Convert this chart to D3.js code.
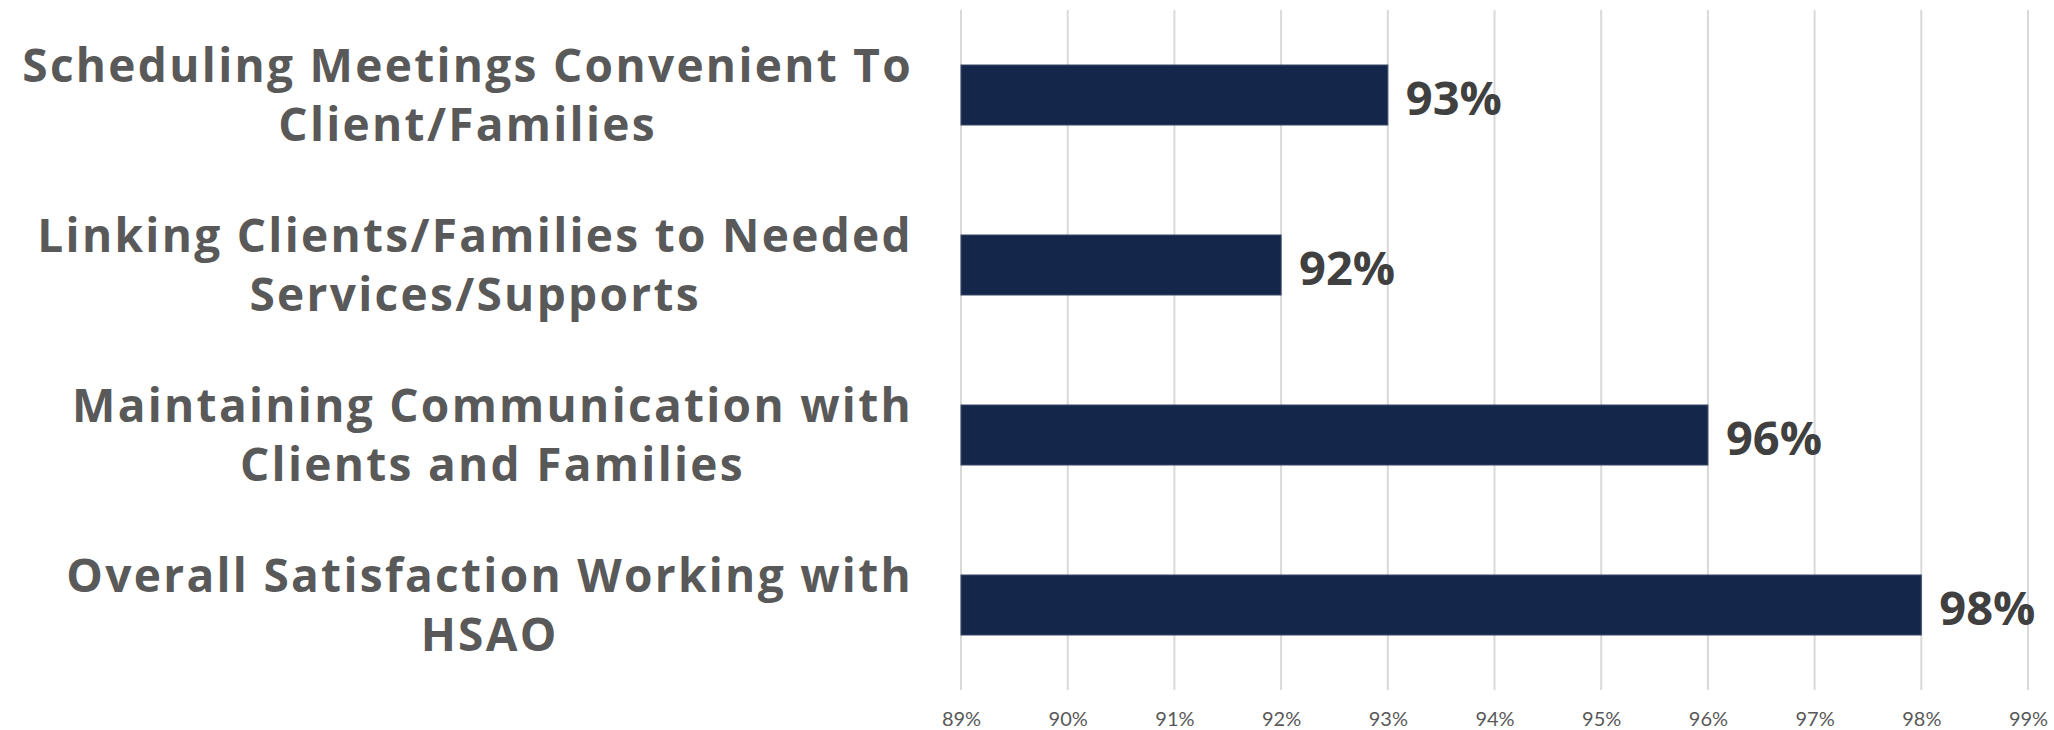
<!DOCTYPE html>
<html>
<head>
<meta charset="utf-8">
<script src="https://cdn.jsdelivr.net/npm/d3@7"></script>
<style>
  html, body { margin: 0; padding: 0; background: #ffffff; }
  svg { display: block; }
</style>
</head>
<body>
<svg id="chart" width="2054" height="730"></svg>
<script>
// ---- Data ----
const categories = [
  "Scheduling Meetings Convenient To Client/Families",
  "Linking Clients/Families to Needed Services/Supports",
  "Maintaining Communication with Clients and Families",
  "Overall Satisfaction Working with HSAO"
];
const labelLines = [
  ["Scheduling Meetings Convenient To", "Client/Families"],
  ["Linking Clients/Families to Needed", "Services/Supports"],
  ["Maintaining Communication with", "Clients and Families"],
  ["Overall Satisfaction Working with", "HSAO"]
];
const values = [0.93, 0.92, 0.96, 0.98];
const tickValues = [0.89, 0.90, 0.91, 0.92, 0.93, 0.94, 0.95, 0.96, 0.97, 0.98, 0.99];
const xDomain = [0.89, 0.99];

// ---- Layout ----
const svg = d3.select("#chart");
const plotLeft = 961, plotRight = 2028, plotTop = 10, plotBottom = 690;
const labelRight = 913;
const labelFamily = "'Open Sans', Lato, sans-serif";
const tickFamily = "Lato, 'Open Sans', sans-serif";

const x = d3.scaleLinear().domain(xDomain).range([plotLeft, plotRight]);
const y = d3.scaleBand().domain(categories).range([plotTop, plotBottom])
  .paddingInner(0.647).paddingOuter(0.3235);

// Gridlines
svg.append("g").selectAll("line").data(tickValues).join("line")
  .attr("x1", d => x(d)).attr("x2", d => x(d))
  .attr("y1", plotTop).attr("y2", plotBottom)
  .attr("stroke", "#d9d9d9").attr("stroke-width", 2);

// Bottom axis tick labels
const fmt = d3.format(".0%");
const axis = d3.axisBottom(x).tickValues(tickValues).tickFormat(fmt).tickSize(0).tickPadding(0);
const axisG = svg.append("g").attr("transform", `translate(0,${plotBottom})`).call(axis);
axisG.select(".domain").remove();
axisG.selectAll("text")
  .attr("y", 36).attr("dy", null)
  .attr("font-family", tickFamily).attr("font-size", 20)
  .attr("fill", "#595959");

// Bars
svg.append("g").selectAll("rect").data(values).join("rect")
  .attr("x", x(xDomain[0]))
  .attr("y", (d, i) => y(categories[i]))
  .attr("width", d => x(d) - x(xDomain[0]))
  .attr("height", y.bandwidth())
  .attr("fill", "#14264a")
  .attr("stroke", "#3a4a6a").attr("stroke-width", 1);

// Value labels
svg.append("g").selectAll("text").data(values).join("text")
  .attr("x", d => x(d) + 18)
  .attr("y", (d, i) => y(categories[i]) + y.bandwidth() / 2 + 2)
  .attr("dominant-baseline", "central")
  .attr("font-family", labelFamily).attr("font-weight", "bold")
  .attr("font-size", 47).attr("fill", "#404040")
  .text(d => fmt(d));

// Category labels (wrapped, lines centered, block right-aligned)
const labelFont = 46, lineGap = 59;
labelLines.forEach((lines, i) => {
  const cy = y(categories[i]) + y.bandwidth() / 2;
  const g = svg.append("g");
  const texts = lines.map((ln, j) => g.append("text")
    .attr("font-family", labelFamily).attr("font-weight", "bold")
    .attr("font-size", labelFont).attr("letter-spacing", 2.3).attr("fill", "#595959")
    .attr("text-anchor", "middle")
    .attr("y", cy + (j - (lines.length - 1) / 2) * lineGap + 0.35 * labelFont)
    .text(ln));
  const maxW = d3.max(texts, t => t.node().getComputedTextLength());
  texts.forEach(t => t.attr("x", labelRight - maxW / 2));
});
</script>
</body>
</html>
